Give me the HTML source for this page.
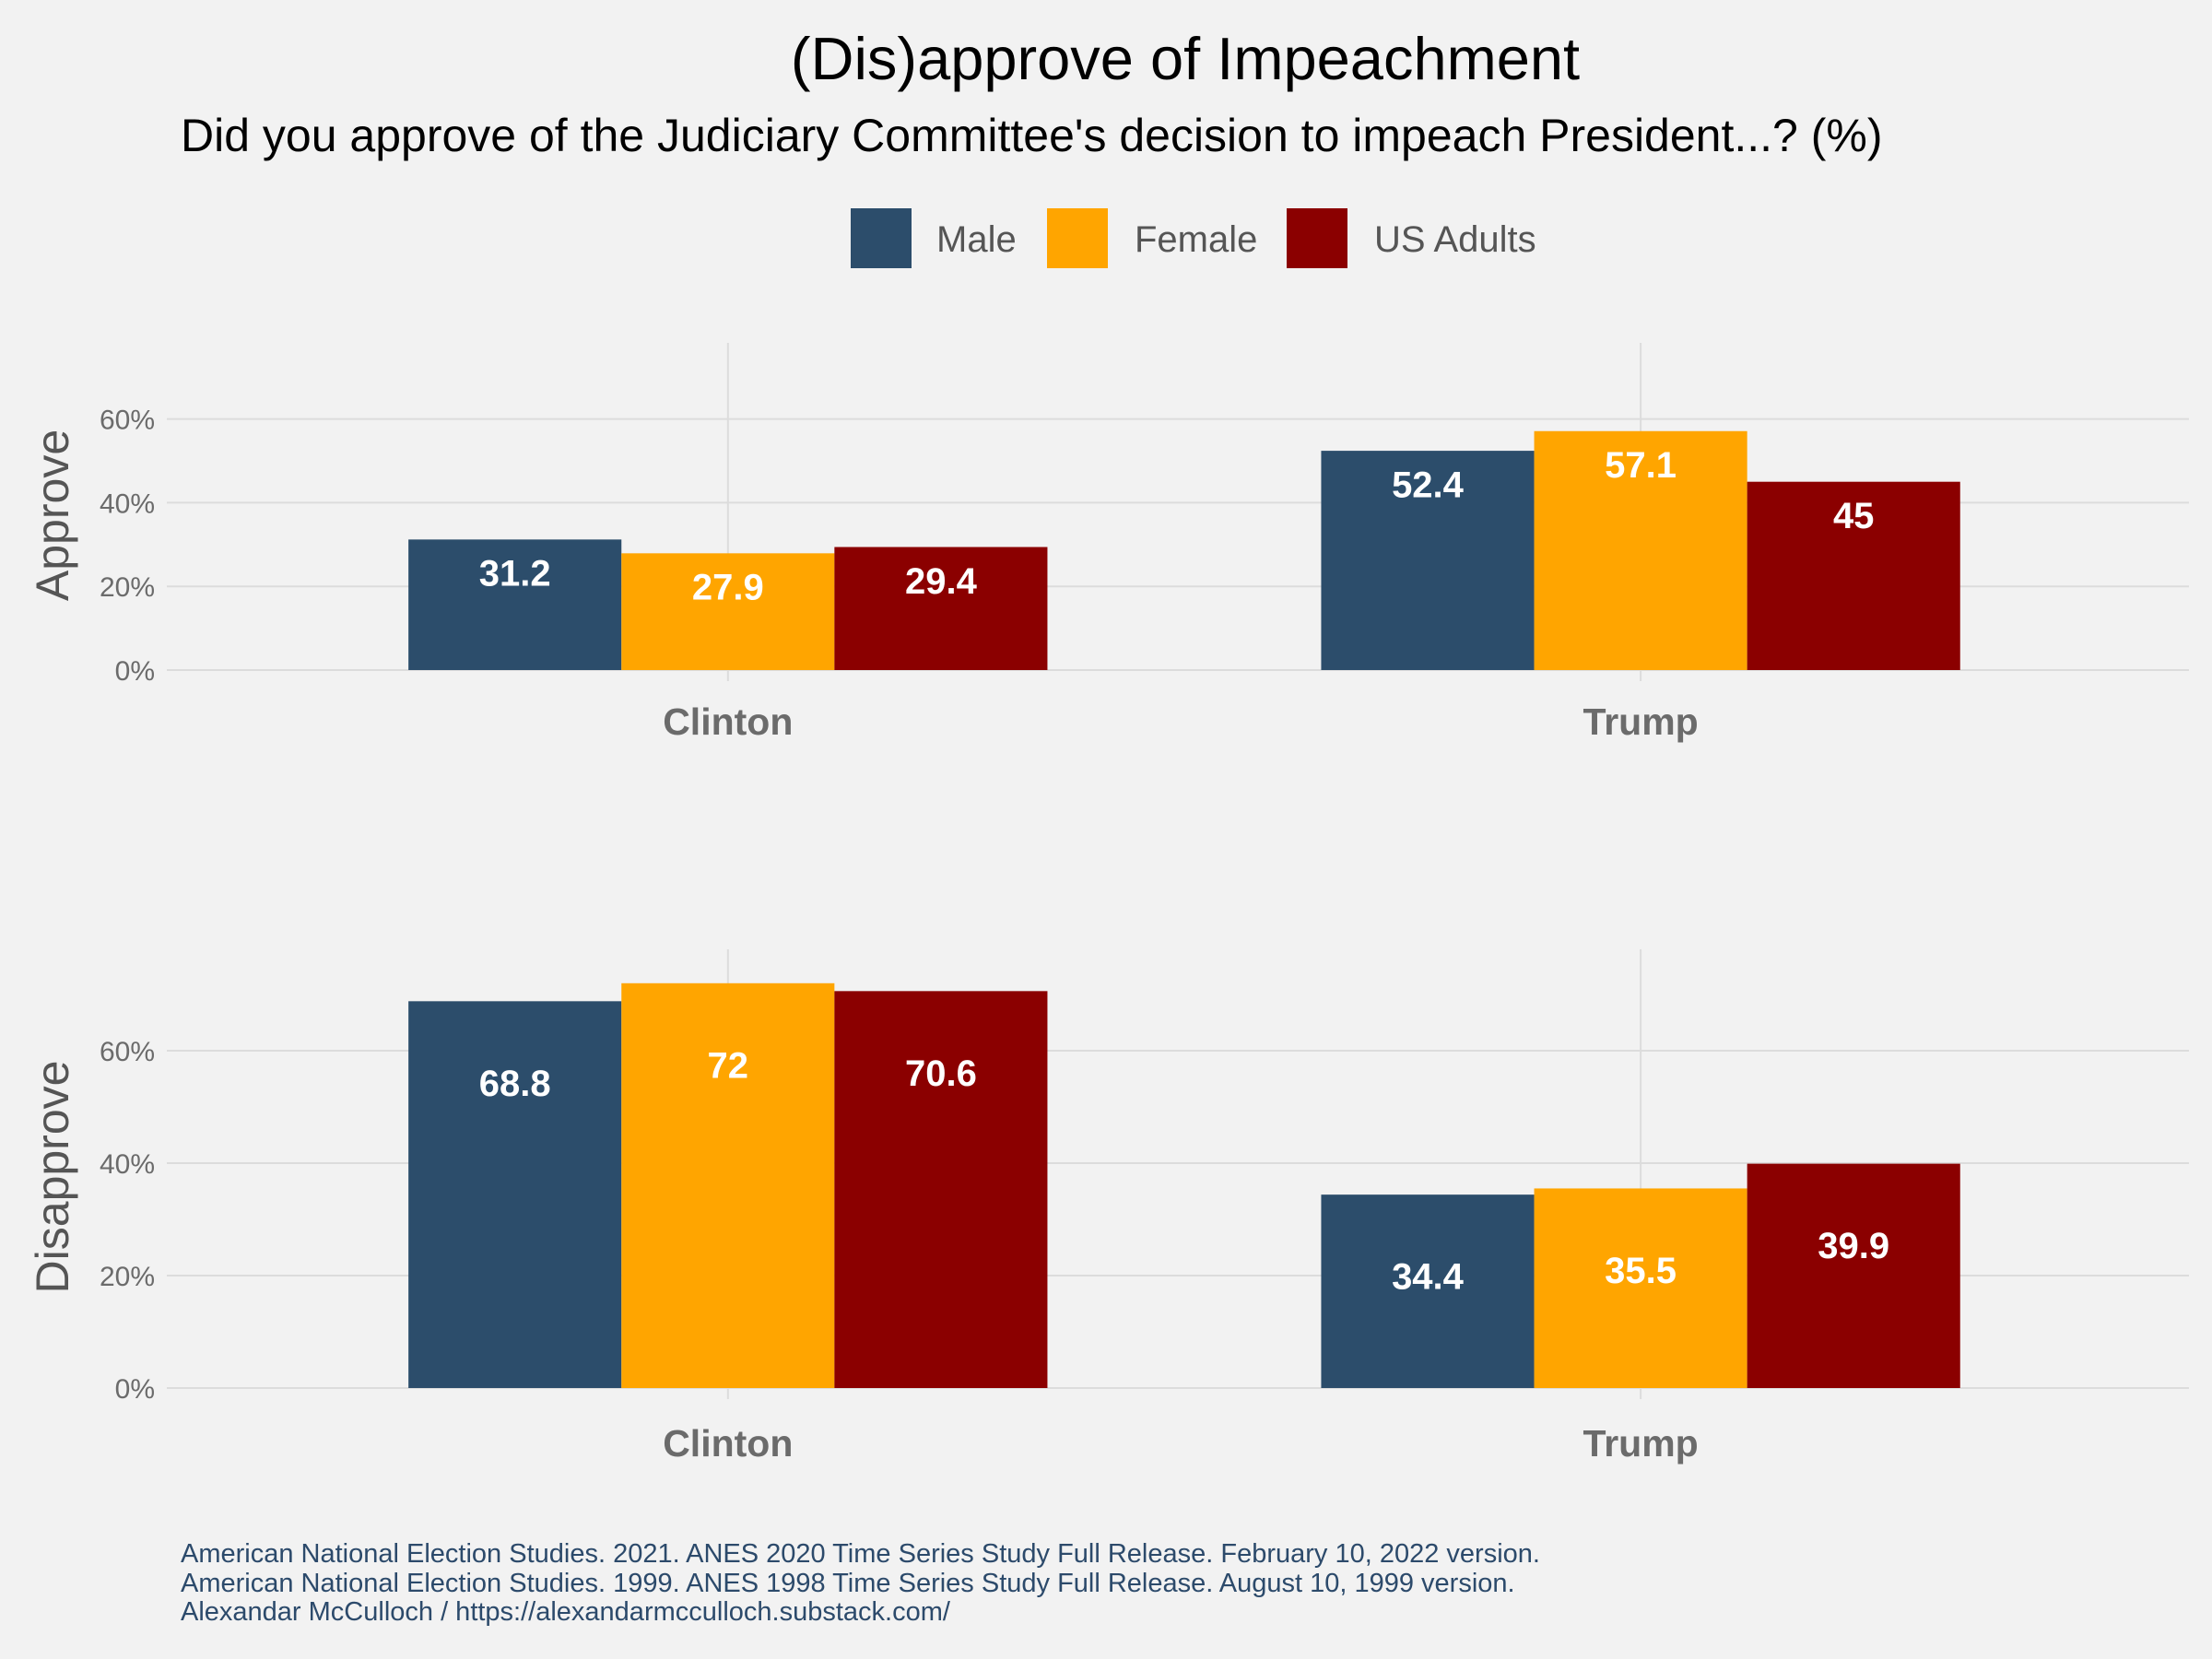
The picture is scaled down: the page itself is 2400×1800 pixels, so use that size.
<!DOCTYPE html>
<html><head><meta charset="utf-8"><style>
html,body{margin:0;padding:0;background:#f2f2f2;}
svg{display:block;font-family:"Liberation Sans",sans-serif;}
</style></head><body>
<svg id="chart" width="2400" height="1800" viewBox="0 0 2400 1800">
<rect width="2400" height="1800" fill="#f2f2f2"/>
<text x="1286" y="86" text-anchor="middle" font-size="65" fill="#000">(Dis)approve of Impeachment</text>
<text x="196" y="164" font-size="50" fill="#000">Did you approve of the Judiciary Committee's decision to impeach President...? (%)</text>
<g>
<rect x="923" y="226" width="66" height="65" fill="#2c4d6b"/>
<text x="1016" y="273" font-size="40" fill="#555">Male</text>
<rect x="1136" y="226" width="66" height="65" fill="#ffa500"/>
<text x="1231" y="273" font-size="40" fill="#555">Female</text>
<rect x="1396" y="226" width="66" height="65" fill="#8b0000"/>
<text x="1491" y="273" font-size="40" fill="#555">US Adults</text>
</g>
<g id="panels"></g>
<g fill="#2c4a6b" font-size="29">
<text x="196" y="1695">American National Election Studies. 2021. ANES 2020 Time Series Study Full Release. February 10, 2022 version.</text>
<text x="196" y="1727">American National Election Studies. 1999. ANES 1998 Time Series Study Full Release. August 10, 1999 version.</text>
<text x="196" y="1758">Alexandar McCulloch / https://alexandarmcculloch.substack.com/</text>
</g>
</svg>
<script>
const categories = ["Clinton", "Trump"];
const seriesNames = ["Male", "Female", "US Adults"];
const approveMale = [31.2, 52.4];
const approveFemale = [27.9, 57.1];
const approveUS = [29.4, 45];
const disapproveMale = [68.8, 34.4];
const disapproveFemale = [72, 35.5];
const disapproveUS = [70.6, 39.9];
const yTicks = [0, 20, 40, 60];
const tickLabels = ["0%", "20%", "40%", "60%"];

const colors = ["#2c4d6b", "#ffa500", "#8b0000"];
const NS = "http://www.w3.org/2000/svg";
const root = document.getElementById("panels");
function mk(tag, attrs, parent) {
  const e = document.createElementNS(NS, tag);
  for (const k in attrs) e.setAttribute(k, attrs[k]);
  parent.appendChild(e);
  return e;
}
const xCenter0 = 789.8, xStep = 990.3, barW = 231.1;
function xScale(i) { return xCenter0 + i * xStep; }

const panels = [
  {name: "approve", title: "Approve", zero: 727, per20: 90.8, top: 372, catY: 797, labOff: 8, titleY: 559, series: [approveMale, approveFemale, approveUS]},
  {name: "disapprove", title: "Disapprove", zero: 1506, per20: 122, top: 1030, catY: 1580, labOff: 14.5, titleY: 1277, series: [disapproveMale, disapproveFemale, disapproveUS]}
];
panels.forEach(p => {
  const g = mk("g", {}, root);
  
  
  const y = v => p.zero - v / 20 * p.per20;
  yTicks.forEach((t, k) => {
    const l = mk("line", {x1: 181, x2: 2375, y1: y(t), y2: y(t), stroke: "#dcdcdc", "stroke-width": 2}, g);
    
    
    const tx = mk("text", {x: 168, y: y(t) + 11, "text-anchor": "end", "font-size": 30, fill: "#6b6b6b"}, g);
    tx.textContent = tickLabels[k];
    
    
  });
  categories.forEach((c, i) => {
    const l = mk("line", {x1: xScale(i), x2: xScale(i), y1: p.top, y2: p.zero + 12, stroke: "#dcdcdc", "stroke-width": 2}, g);
    
    
    const tx = mk("text", {x: xScale(i), y: p.catY, "text-anchor": "middle", "font-size": 41, "font-weight": "bold", fill: "#6b6b6b"}, g);
    tx.textContent = c;
    
    
  });
  p.series.forEach((vals, s) => {
    vals.forEach((v, i) => {
      const x0 = xScale(i) - 1.5 * barW + s * barW;
      const r = mk("rect", {x: x0, y: y(v), width: barW, height: p.zero - y(v), fill: colors[s]}, g);
      
      
      const tx = mk("text", {x: x0 + barW / 2, y: y(v - p.labOff) + 14, "text-anchor": "middle", "font-size": 40, "font-weight": "bold", fill: "#fff"}, g);
      tx.textContent = String(v);
      
      
    });
  });
  const at = mk("text", {x: 0, y: 0, transform: "translate(74," + p.titleY + ") rotate(-90)", "text-anchor": "middle", "font-size": 50, fill: "#555"}, g);
  at.textContent = p.title;
  
  
});
</script>
</body></html>
